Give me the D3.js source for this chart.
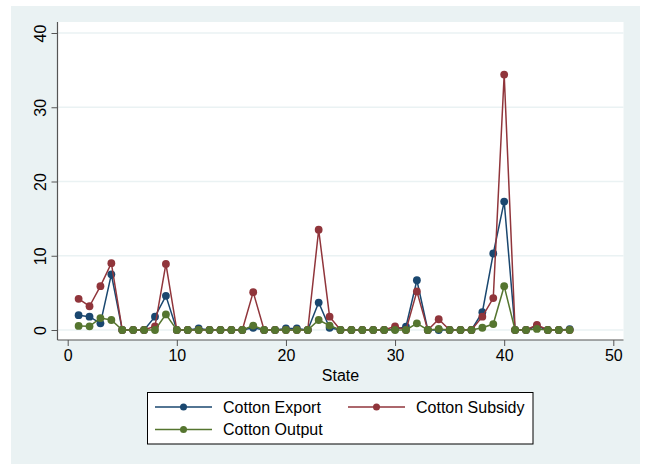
<!DOCTYPE html>
<html>
<head>
<meta charset='utf-8'>
<title>Cotton by State</title>
<script src='https://cdn.jsdelivr.net/npm/d3@7'></script>
<style>
  body { margin: 0; background: #fff; }
  text { font-family: 'Liberation Sans', Arial, sans-serif; }
</style>
</head>
<body>
<svg width='647' height='464'></svg>
<script>
// values, one per state (1..46)
const states = d3.range(1, 47)
const exportVals = [2.0, 1.8, 0.9, 7.5, 0, 0, 0, 1.8, 4.6, 0,
  0, 0.2, 0, 0, 0, 0, 0.3, 0, 0, 0.2,
  0.2, 0, 3.7, 0.3, 0, 0, 0, 0, 0, 0.1,
  0.45, 6.7, 0, 0, 0, 0, 0, 2.4, 10.3, 17.3,
  0, 0, 0.5, 0, 0, 0.1]
const subsidyVals = [4.2, 3.2, 5.9, 9.0, 0, 0, 0, 0.5, 8.9, 0,
  0, 0, 0, 0, 0, 0, 5.1, 0, 0, 0,
  0, 0, 13.5, 1.8, 0, 0, 0, 0, 0, 0.5,
  0, 5.2, 0, 1.45, 0, 0, 0, 1.8, 4.3, 34.4,
  0, 0, 0.7, 0, 0, 0]
const outputVals = [0.55, 0.5, 1.6, 1.35, 0, 0, 0, 0, 2.1, 0,
  0, 0, 0, 0, 0, 0, 0.6, 0, 0, 0,
  0, 0, 1.35, 0.6, 0, 0, 0, 0, 0, 0,
  0, 0.9, 0, 0.15, 0, 0, 0, 0.3, 0.8, 5.9,
  0, 0, 0.15, 0, 0, 0]
const seriesNames = ['Cotton Export', 'Cotton Subsidy', 'Cotton Output']
const seriesColors = ['#1a476f', '#90353b', '#55752f']
const xTicks = [0, 10, 20, 30, 40, 50]
const yTicks = [0, 10, 20, 30, 40]

const series = [exportVals, subsidyVals, outputVals].map((vals, k) => ({
  name: seriesNames[k],
  color: seriesColors[k],
  points: states.map((s, i) => ({ x: s, y: vals[i] }))
}))

const svg = d3.select('svg')
const plot = { left: 57.5, right: 623.5, top: 22, bottom: 340 }

// stata-style outer panel
svg.append('rect').attr('x', 11).attr('y', 6).attr('width', 629).attr('height', 458).attr('fill', '#eaf2f3')
svg.append('rect').attr('x', plot.left).attr('y', plot.top)
  .attr('width', plot.right - plot.left).attr('height', plot.bottom - plot.top).attr('fill', '#fff')

const xScale = d3.scaleLinear([0, 50], [67.7, 613.3])
const yScale = d3.scaleLinear([0, 40], [330, 33])

// grid lines
svg.append('g').selectAll('line').data(yTicks).join('line')
  .attr('x1', plot.left).attr('x2', plot.right)
  .attr('y1', d => yScale(d)).attr('y2', d => yScale(d))
  .attr('stroke', '#eaf2f3').attr('stroke-width', 1.5)

// axes
const xAxis = svg.append('g').attr('transform', `translate(0,${plot.bottom})`)
  .call(d3.axisBottom(xScale).tickValues(xTicks).tickSize(6).tickPadding(4))
xAxis.select('.domain').remove()
xAxis.append('line').attr('x1', plot.left).attr('x2', plot.right).attr('stroke', '#555').attr('stroke-width', 1.2)
xAxis.selectAll('.tick line').attr('stroke', '#555')
xAxis.selectAll('.tick text').attr('font-size', '16px').attr('fill', '#000')
  .attr('font-family', "'Liberation Sans', Arial, sans-serif")

const yAxis = svg.append('g').attr('transform', `translate(${plot.left},0)`)
  .call(d3.axisLeft(yScale).tickValues(yTicks).tickSize(6))
yAxis.select('.domain').remove()
yAxis.append('line').attr('y1', plot.top).attr('y2', plot.bottom).attr('stroke', '#555').attr('stroke-width', 1.2)
yAxis.selectAll('.tick line').attr('stroke', '#555')
yAxis.selectAll('.tick text')
  .attr('x', null).attr('dy', null)
  .attr('transform', 'translate(-12,0) rotate(-90)')
  .attr('text-anchor', 'middle').attr('dy', '0em')
  .attr('font-size', '16px').attr('fill', '#000')
  .attr('font-family', "'Liberation Sans', Arial, sans-serif")

svg.append('text').attr('x', (plot.left + plot.right) / 2).attr('y', 381)
  .attr('text-anchor', 'middle').attr('font-size', '16px').text('State')

// series
const line = d3.line().x(d => xScale(d.x)).y(d => yScale(d.y))
series.forEach(s => {
  const g = svg.append('g')
  g.append('path').datum(s.points).attr('d', line)
    .attr('fill', 'none').attr('stroke', s.color).attr('stroke-width', 1.5)
  g.selectAll('circle').data(s.points).join('circle')
    .attr('cx', d => xScale(d.x)).attr('cy', d => yScale(d.y))
    .attr('r', 3.9).attr('fill', s.color)
})

// legend
const legend = svg.append('g')
legend.append('rect').attr('x', 147.5).attr('y', 392.5).attr('width', 385.5).attr('height', 51.5)
  .attr('fill', '#fff').attr('stroke', '#000').attr('stroke-width', 1)
const legendPos = [{ x: 155, y: 407 }, { x: 348, y: 407 }, { x: 155, y: 429.5 }]
series.forEach((s, k) => {
  const p = legendPos[k]
  legend.append('line').attr('x1', p.x).attr('x2', p.x + 57).attr('y1', p.y).attr('y2', p.y)
    .attr('stroke', s.color).attr('stroke-width', 1.5)
  legend.append('circle').attr('cx', p.x + 28.5).attr('cy', p.y).attr('r', 3.5).attr('fill', s.color)
  legend.append('text').attr('x', p.x + 68).attr('y', p.y + 5.5)
    .attr('font-size', '16px').text(s.name)
})
</script>
</body>
</html>
